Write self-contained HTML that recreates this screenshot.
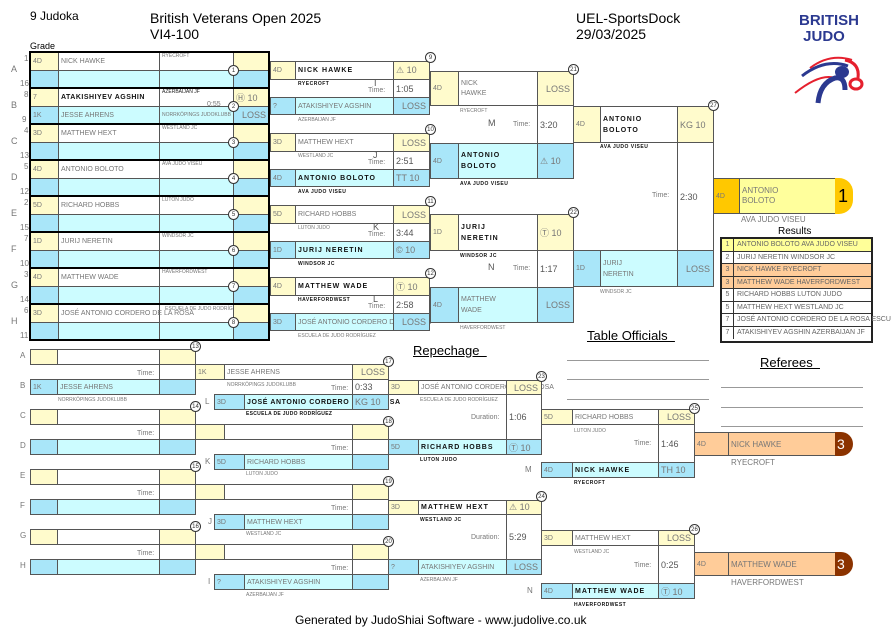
<!DOCTYPE html>
<html><head><meta charset="utf-8"><style>
body{margin:0;width:891px;height:630px;background:#fff;position:relative;overflow:hidden;font-family:"Liberation Sans",sans-serif}
.a{position:absolute;box-sizing:border-box;font-size:7px;color:#777;white-space:nowrap}
.b{border:1px solid #555;display:flex;align-items:center;padding-left:2px}
.Y{background:#fffbcc}.C{background:#a9e6f9}.L{background:#ccfcff}.W{background:#fff}
.r{justify-content:flex-end;padding-right:3px;font-size:9px}
.k{color:#111;font-weight:bold;letter-spacing:1px}
.s{font-size:5px}
.o{position:absolute;width:11px;height:11px;border:1px solid #333;border-radius:50%;background:#fff;font-size:6px;display:flex;align-items:center;justify-content:center;box-sizing:border-box;color:#333;margin:-5px 0 0 -5px}
.t{font-size:9px;color:#555}
.lb{position:absolute;font-size:8px;color:#777}
.rr{height:12.5px;line-height:12.5px;border-bottom:1px solid #333;display:flex;box-sizing:border-box;overflow:visible}
.rr span:first-child{width:11px;border-right:1px solid #333;text-align:center;flex:none}
.rr span+span{padding-left:3px;white-space:nowrap}
</style></head><body>
<!-- header -->
<div class="a" style="left:30px;top:9px;font-size:12px;color:#000">9 Judoka</div>
<div class="a" style="left:150px;top:10px;font-size:14px;color:#000">British Veterans Open 2025</div>
<div class="a" style="left:150px;top:26px;font-size:14px;color:#000">VI4-100</div>
<div class="a" style="left:576px;top:10px;font-size:14px;color:#000">UEL-SportsDock</div>
<div class="a" style="left:576px;top:26px;font-size:14px;color:#000">29/03/2025</div>
<div class="a" style="left:30px;top:41px;font-size:9px;color:#000">Grade</div>
<div class="a" style="left:799px;top:13px;font-size:15px;font-weight:bold;color:#2b3990;line-height:16px">BRITISH<br>&nbsp;JUDO</div>
<svg class="a" style="left:790px;top:48px" width="75" height="57"><path d="M12 28 Q35 10 58 18" stroke="#2b3990" stroke-width="3" fill="none"/><path d="M20 20 Q40 5 62 12" stroke="#e5202e" stroke-width="2" fill="none"/><path d="M5 45 Q30 25 45 30" stroke="#e5202e" stroke-width="2" fill="none"/><path d="M28 55 Q30 35 45 30 Q55 28 55 42" stroke="#2b3990" stroke-width="5" fill="none"/><ellipse cx="52" cy="24" rx="7" ry="6" fill="#2b3990"/><path d="M55 12 Q70 15 68 30" stroke="#e5202e" stroke-width="3" fill="none"/><ellipse cx="66" cy="36" rx="6" ry="5" fill="none" stroke="#e5202e" stroke-width="3"/></svg>

<!-- first round -->
<div class="lb" style="left:11px;top:64px;font-size:9px">A</div><div class="lb s" style="left:24px;top:54px">1</div><div class="lb s" style="left:20px;top:79px">16</div>
<div class="lb" style="left:11px;top:100px;font-size:9px">B</div><div class="lb s" style="left:24px;top:90px">8</div><div class="lb s" style="left:22px;top:115px">9</div>
<div class="lb" style="left:11px;top:136px;font-size:9px">C</div><div class="lb s" style="left:24px;top:126px">4</div><div class="lb s" style="left:20px;top:151px">13</div>
<div class="lb" style="left:11px;top:172px;font-size:9px">D</div><div class="lb s" style="left:24px;top:162px">5</div><div class="lb s" style="left:20px;top:187px">12</div>
<div class="lb" style="left:11px;top:208px;font-size:9px">E</div><div class="lb s" style="left:24px;top:198px">2</div><div class="lb s" style="left:20px;top:223px">15</div>
<div class="lb" style="left:11px;top:244px;font-size:9px">F</div><div class="lb s" style="left:24px;top:234px">7</div><div class="lb s" style="left:20px;top:259px">10</div>
<div class="lb" style="left:11px;top:280px;font-size:9px">G</div><div class="lb s" style="left:24px;top:270px">3</div><div class="lb s" style="left:20px;top:295px">14</div>
<div class="lb" style="left:11px;top:316px;font-size:9px">H</div><div class="lb s" style="left:24px;top:306px">6</div><div class="lb s" style="left:20px;top:331px">11</div>

<div class="a b Y" style="left:30px;top:52px;width:29px;height:19px">4D</div><div class="a b W" style="left:58px;top:52px;width:102px;height:19px">NICK HAWKE</div><div class="a b W s" style="left:159px;top:52px;width:75px;height:19px;align-items:flex-start">RYECROFT</div><div class="a b Y" style="left:233px;top:52px;width:37px;height:19px"></div>
<div class="a b C" style="left:30px;top:70px;width:29px;height:18px"></div><div class="a b L" style="left:58px;top:70px;width:102px;height:18px"></div><div class="a b L" style="left:159px;top:70px;width:75px;height:18px"></div><div class="a b C" style="left:233px;top:70px;width:37px;height:18px"></div>

<div class="a b Y" style="left:30px;top:88px;width:29px;height:19px">7</div><div class="a b W k" style="left:58px;top:88px;width:102px;height:19px;letter-spacing:0.5px">ATAKISHIYEV AGSHIN</div><div class="a b W s" style="left:159px;top:88px;width:75px;height:19px;align-items:flex-start;color:#222">AZERBAIJAN JF</div><div class="a b Y r" style="left:233px;top:88px;width:37px;height:19px;justify-content:flex-start">Ⓗ 10</div>
<div class="a" style="left:207px;top:101px;font-size:7px">0:55</div>
<div class="a b C" style="left:30px;top:106px;width:29px;height:18px">1K</div><div class="a b L" style="left:58px;top:106px;width:102px;height:18px">JESSE AHRENS</div><div class="a b L s" style="left:159px;top:106px;width:75px;height:18px">NORRKÖPINGS JUDOKLUBB</div><div class="a b C r" style="left:233px;top:106px;width:37px;height:18px">LOSS</div>

<div class="a b Y" style="left:30px;top:124px;width:29px;height:19px">3D</div><div class="a b W" style="left:58px;top:124px;width:102px;height:19px">MATTHEW HEXT</div><div class="a b W s" style="left:159px;top:124px;width:75px;height:19px;align-items:flex-start">WESTLAND JC</div><div class="a b Y" style="left:233px;top:124px;width:37px;height:19px"></div>
<div class="a b C" style="left:30px;top:142px;width:29px;height:18px"></div><div class="a b L" style="left:58px;top:142px;width:102px;height:18px"></div><div class="a b L" style="left:159px;top:142px;width:75px;height:18px"></div><div class="a b C" style="left:233px;top:142px;width:37px;height:18px"></div>

<div class="a b Y" style="left:30px;top:160px;width:29px;height:19px">4D</div><div class="a b W" style="left:58px;top:160px;width:102px;height:19px">ANTONIO BOLOTO</div><div class="a b W s" style="left:159px;top:160px;width:75px;height:19px;align-items:flex-start">AVA JUDO VISEU</div><div class="a b Y" style="left:233px;top:160px;width:37px;height:19px"></div>
<div class="a b C" style="left:30px;top:178px;width:29px;height:18px"></div><div class="a b L" style="left:58px;top:178px;width:102px;height:18px"></div><div class="a b L" style="left:159px;top:178px;width:75px;height:18px"></div><div class="a b C" style="left:233px;top:178px;width:37px;height:18px"></div>

<div class="a b Y" style="left:30px;top:196px;width:29px;height:19px">5D</div><div class="a b W" style="left:58px;top:196px;width:102px;height:19px">RICHARD HOBBS</div><div class="a b W s" style="left:159px;top:196px;width:75px;height:19px;align-items:flex-start">LUTON JUDO</div><div class="a b Y" style="left:233px;top:196px;width:37px;height:19px"></div>
<div class="a b C" style="left:30px;top:214px;width:29px;height:18px"></div><div class="a b L" style="left:58px;top:214px;width:102px;height:18px"></div><div class="a b L" style="left:159px;top:214px;width:75px;height:18px"></div><div class="a b C" style="left:233px;top:214px;width:37px;height:18px"></div>

<div class="a b Y" style="left:30px;top:232px;width:29px;height:19px">1D</div><div class="a b W" style="left:58px;top:232px;width:102px;height:19px">JURIJ NERETIN</div><div class="a b W s" style="left:159px;top:232px;width:75px;height:19px;align-items:flex-start">WINDSOR JC</div><div class="a b Y" style="left:233px;top:232px;width:37px;height:19px"></div>
<div class="a b C" style="left:30px;top:250px;width:29px;height:18px"></div><div class="a b L" style="left:58px;top:250px;width:102px;height:18px"></div><div class="a b L" style="left:159px;top:250px;width:75px;height:18px"></div><div class="a b C" style="left:233px;top:250px;width:37px;height:18px"></div>

<div class="a b Y" style="left:30px;top:268px;width:29px;height:19px">4D</div><div class="a b W" style="left:58px;top:268px;width:102px;height:19px">MATTHEW WADE</div><div class="a b W s" style="left:159px;top:268px;width:75px;height:19px;align-items:flex-start">HAVERFORDWEST</div><div class="a b Y" style="left:233px;top:268px;width:37px;height:19px"></div>
<div class="a b C" style="left:30px;top:286px;width:29px;height:18px"></div><div class="a b L" style="left:58px;top:286px;width:102px;height:18px"></div><div class="a b L" style="left:159px;top:286px;width:75px;height:18px"></div><div class="a b C" style="left:233px;top:286px;width:37px;height:18px"></div>

<div class="a b Y" style="left:30px;top:304px;width:29px;height:19px">3D</div><div class="a b W" style="left:58px;top:304px;width:102px;height:19px;overflow:visible">JOSÉ ANTONIO CORDERO DE LA ROSA</div><div class="a s" style="left:165px;top:306px">ESCUELA DE JUDO RODRÍGUEZ</div><div class="a b Y" style="left:233px;top:304px;width:37px;height:19px"></div>
<div class="a b C" style="left:30px;top:322px;width:29px;height:18px"></div><div class="a b L" style="left:58px;top:322px;width:102px;height:18px"></div><div class="a b L" style="left:159px;top:322px;width:75px;height:18px"></div><div class="a b C" style="left:233px;top:322px;width:37px;height:18px"></div>

<div class="a" style="left:29px;top:51px;width:241px;height:38px;border:2px solid #000"></div>
<div class="a" style="left:29px;top:87px;width:241px;height:38px;border:2px solid #000"></div>
<div class="a" style="left:29px;top:123px;width:241px;height:38px;border:2px solid #000"></div>
<div class="a" style="left:29px;top:159px;width:241px;height:38px;border:2px solid #000"></div>
<div class="a" style="left:29px;top:195px;width:241px;height:38px;border:2px solid #000"></div>
<div class="a" style="left:29px;top:231px;width:241px;height:38px;border:2px solid #000"></div>
<div class="a" style="left:29px;top:267px;width:241px;height:38px;border:2px solid #000"></div>
<div class="a" style="left:29px;top:303px;width:241px;height:38px;border:2px solid #000"></div>
<div class="o" style="left:233px;top:70px">1</div><div class="o" style="left:233px;top:106px">2</div><div class="o" style="left:233px;top:142px">3</div><div class="o" style="left:233px;top:178px">4</div><div class="o" style="left:233px;top:214px">5</div><div class="o" style="left:233px;top:250px">6</div><div class="o" style="left:233px;top:286px">7</div><div class="o" style="left:233px;top:322px">8</div>

<!-- round 2 -->
<div class="a b Y" style="left:270px;top:61px;width:26px;height:19px">4D</div><div class="a b W k" style="left:295px;top:61px;width:99px;height:19px">NICK HAWKE</div><div class="a b Y r" style="left:393px;top:61px;width:37px;height:19px;justify-content:flex-start">⚠ 10</div>
<div class="a s k" style="left:298px;top:81px;letter-spacing:.5px">RYECROFT</div><div class="a t" style="left:374px;top:78px">I</div><div class="a" style="left:368px;top:87px;font-size:7px">Time:</div>
<div class="a b W t" style="left:393px;top:79px;width:37px;height:19px">1:05</div>
<div class="a b C" style="left:270px;top:97px;width:26px;height:18px">?</div><div class="a b L" style="left:295px;top:97px;width:99px;height:18px">ATAKISHIYEV AGSHIN</div><div class="a b C r" style="left:393px;top:97px;width:37px;height:18px">LOSS</div>
<div class="a s" style="left:298px;top:117px">AZERBAIJAN JF</div>

<div class="a b Y" style="left:270px;top:133px;width:26px;height:19px">3D</div><div class="a b W" style="left:295px;top:133px;width:99px;height:19px">MATTHEW HEXT</div><div class="a b Y r" style="left:393px;top:133px;width:37px;height:19px">LOSS</div>
<div class="a s" style="left:298px;top:153px">WESTLAND JC</div><div class="a t" style="left:373px;top:150px">J</div><div class="a" style="left:368px;top:159px">Time:</div>
<div class="a b W t" style="left:393px;top:151px;width:37px;height:19px">2:51</div>
<div class="a b C" style="left:270px;top:169px;width:26px;height:18px">4D</div><div class="a b L k" style="left:295px;top:169px;width:99px;height:18px">ANTONIO BOLOTO</div><div class="a b C r" style="left:393px;top:169px;width:37px;height:18px;justify-content:flex-start">TT 10</div>
<div class="a s k" style="left:298px;top:189px;letter-spacing:.5px">AVA JUDO VISEU</div>

<div class="a b Y" style="left:270px;top:205px;width:26px;height:19px">5D</div><div class="a b W" style="left:295px;top:205px;width:99px;height:19px">RICHARD HOBBS</div><div class="a b Y r" style="left:393px;top:205px;width:37px;height:19px">LOSS</div>
<div class="a s" style="left:298px;top:225px">LUTON JUDO</div><div class="a t" style="left:373px;top:222px">K</div><div class="a" style="left:368px;top:231px">Time:</div>
<div class="a b W t" style="left:393px;top:223px;width:37px;height:19px">3:44</div>
<div class="a b C" style="left:270px;top:241px;width:26px;height:18px">1D</div><div class="a b L k" style="left:295px;top:241px;width:99px;height:18px">JURIJ NERETIN</div><div class="a b C r" style="left:393px;top:241px;width:37px;height:18px;justify-content:flex-start">© 10</div>
<div class="a s k" style="left:298px;top:261px;letter-spacing:.5px">WINDSOR JC</div>

<div class="a b Y" style="left:270px;top:277px;width:26px;height:19px">4D</div><div class="a b W k" style="left:295px;top:277px;width:99px;height:19px">MATTHEW WADE</div><div class="a b Y r" style="left:393px;top:277px;width:37px;height:19px;justify-content:flex-start">Ⓣ 10</div>
<div class="a s k" style="left:298px;top:297px;letter-spacing:.5px">HAVERFORDWEST</div><div class="a t" style="left:373px;top:294px">L</div><div class="a" style="left:368px;top:303px">Time:</div>
<div class="a b W t" style="left:393px;top:295px;width:37px;height:19px">2:58</div>
<div class="a b C" style="left:270px;top:313px;width:26px;height:18px">3D</div><div class="a b L" style="left:295px;top:313px;width:99px;height:18px">JOSÉ ANTONIO CORDERO DE LA ROSA</div><div class="a b C r" style="left:393px;top:313px;width:37px;height:18px">LOSS</div>
<div class="a s" style="left:298px;top:333px">ESCUELA DE JUDO RODRÍGUEZ</div>
<div class="o" style="left:430px;top:57px">9</div><div class="o" style="left:430px;top:129px">10</div><div class="o" style="left:430px;top:201px">11</div><div class="o" style="left:430px;top:273px">12</div>

<!-- round 3 -->
<div class="a b Y" style="left:430px;top:71px;width:29px;height:35px">4D</div><div class="a b W" style="left:458px;top:71px;width:80px;height:35px;white-space:normal;line-height:10px">NICK<br>HAWKE</div><div class="a b Y r" style="left:537px;top:71px;width:37px;height:35px">LOSS</div>
<div class="a s" style="left:460px;top:108px">RYECROFT</div><div class="a t" style="left:488px;top:118px">M</div><div class="a" style="left:513px;top:121px">Time:</div>
<div class="a b W t" style="left:537px;top:105px;width:37px;height:39px">3:20</div>
<div class="a b C" style="left:430px;top:143px;width:29px;height:36px">4D</div><div class="a b L k" style="left:458px;top:143px;width:80px;height:36px;line-height:11px">ANTONIO<br>BOLOTO</div><div class="a b C r" style="left:537px;top:143px;width:37px;height:36px;justify-content:flex-start">⚠ 10</div>
<div class="a s k" style="left:460px;top:181px;letter-spacing:.5px">AVA JUDO VISEU</div>

<div class="a b Y" style="left:430px;top:214px;width:29px;height:37px">1D</div><div class="a b W k" style="left:458px;top:214px;width:80px;height:37px;line-height:11px">JURIJ<br>NERETIN</div><div class="a b Y r" style="left:537px;top:214px;width:37px;height:37px;justify-content:flex-start">Ⓣ 10</div>
<div class="a s k" style="left:460px;top:253px;letter-spacing:.5px">WINDSOR JC</div><div class="a t" style="left:488px;top:262px">N</div><div class="a" style="left:513px;top:265px">Time:</div>
<div class="a b W t" style="left:537px;top:250px;width:37px;height:38px">1:17</div>
<div class="a b C" style="left:430px;top:287px;width:29px;height:36px">4D</div><div class="a b L" style="left:458px;top:287px;width:80px;height:36px;line-height:11px">MATTHEW<br>WADE</div><div class="a b C r" style="left:537px;top:287px;width:37px;height:36px">LOSS</div>
<div class="a s" style="left:460px;top:325px">HAVERFORDWEST</div>
<div class="o" style="left:573px;top:69px">21</div><div class="o" style="left:573px;top:212px">22</div>

<!-- final -->
<div class="a b Y" style="left:573px;top:106px;width:28px;height:37px">4D</div><div class="a b W k" style="left:600px;top:106px;width:78px;height:37px;line-height:11px">ANTONIO<br>BOLOTO</div><div class="a b Y r" style="left:677px;top:106px;width:37px;height:37px;justify-content:flex-start">KG 10</div>
<div class="a s k" style="left:600px;top:144px;letter-spacing:.5px">AVA JUDO VISEU</div><div class="a" style="left:652px;top:192px">Time:</div>
<div class="a b W t" style="left:677px;top:142px;width:37px;height:109px">2:30</div>
<div class="a b C" style="left:573px;top:250px;width:28px;height:37px">1D</div><div class="a b L" style="left:600px;top:250px;width:78px;height:37px;line-height:11px">JURIJ<br>NERETIN</div><div class="a b C r" style="left:677px;top:250px;width:37px;height:37px">LOSS</div>
<div class="a s" style="left:600px;top:289px">WINDSOR JC</div>
<div class="o" style="left:713px;top:105px">27</div>

<!-- winner -->
<div class="a b" style="left:713px;top:178px;width:27px;height:36px;background:#ffc800">4D</div>
<div class="a b" style="left:739px;top:178px;width:97px;height:36px;background:#ffff9c;font-size:8px;line-height:10px">ANTONIO<br>BOLOTO</div>
<div class="a" style="left:835px;top:178px;width:18px;height:36px;background:#ffc800;border-radius:0 14px 14px 0;font-size:18px;color:#000;display:flex;align-items:center;padding-left:3px">1</div>
<div class="a" style="left:741px;top:215px;font-size:8px">AVA JUDO VISEU</div>

<!-- results -->
<div class="a" style="left:778px;top:226px;font-size:10px;color:#000">Results</div>
<div class="a" style="left:720px;top:237px;width:153px;height:106px;border:2px solid #222;background:#fff"></div>
<div class="a" style="left:722px;top:239px;width:149px;height:102px;font-size:7px;color:#666;overflow:visible">
<div class="rr" style="background:#ffff99"><span>1</span><span>ANTONIO BOLOTO AVA JUDO VISEU</span></div>
<div class="rr"><span>2</span><span>JURIJ NERETIN WINDSOR JC</span></div>
<div class="rr" style="background:#ffcc99"><span>3</span><span>NICK HAWKE RYECROFT</span></div>
<div class="rr" style="background:#ffcc99"><span>3</span><span>MATTHEW WADE HAVERFORDWEST</span></div>
<div class="rr"><span>5</span><span>RICHARD HOBBS LUTON JUDO</span></div>
<div class="rr"><span>5</span><span>MATTHEW HEXT WESTLAND JC</span></div>
<div class="rr"><span>7</span><span>JOSÉ ANTONIO CORDERO DE LA ROSA ESCUE</span></div>
<div class="rr" style="border-bottom:none"><span>7</span><span>ATAKISHIYEV AGSHIN AZERBAIJAN JF</span></div>
</div>

<!-- officials -->
<div class="a" style="left:587px;top:328px;font-size:13px;color:#000;text-decoration:underline">Table Officials&nbsp;&nbsp;</div>
<div class="a" style="left:567px;top:360px;width:142px;height:1px;background:#999"></div>
<div class="a" style="left:567px;top:379px;width:142px;height:1px;background:#999"></div>
<div class="a" style="left:567px;top:399px;width:142px;height:1px;background:#999"></div>
<div class="a" style="left:760px;top:355px;font-size:13px;color:#000;text-decoration:underline">Referees&nbsp;&nbsp;</div>
<div class="a" style="left:721px;top:387px;width:142px;height:1px;background:#999"></div>
<div class="a" style="left:721px;top:407px;width:142px;height:1px;background:#999"></div>
<div class="a" style="left:721px;top:426px;width:142px;height:1px;background:#999"></div>
<div class="a" style="left:413px;top:343px;font-size:13px;color:#000;text-decoration:underline">Repechage&nbsp;&nbsp;</div>

<!-- repechage round 1 -->
<div class="lb" style="left:20px;top:351px">A</div><div class="lb" style="left:20px;top:381px">B</div><div class="lb" style="left:20px;top:411px">C</div><div class="lb" style="left:20px;top:441px">D</div><div class="lb" style="left:20px;top:471px">E</div><div class="lb" style="left:20px;top:501px">F</div><div class="lb" style="left:20px;top:531px">G</div><div class="lb" style="left:20px;top:561px">H</div>
<div class="a b Y" style="left:30px;top:349px;width:28px;height:16px"></div><div class="a b W" style="left:57px;top:349px;width:103px;height:16px"></div><div class="a b Y" style="left:159px;top:349px;width:37px;height:16px"></div>
<div class="a b C" style="left:30px;top:379px;width:28px;height:16px">1K</div><div class="a b L" style="left:57px;top:379px;width:103px;height:16px">JESSE AHRENS</div><div class="a b C" style="left:159px;top:379px;width:37px;height:16px"></div>
<div class="a b Y" style="left:30px;top:409px;width:28px;height:16px"></div><div class="a b W" style="left:57px;top:409px;width:103px;height:16px"></div><div class="a b Y" style="left:159px;top:409px;width:37px;height:16px"></div>
<div class="a b C" style="left:30px;top:439px;width:28px;height:16px"></div><div class="a b L" style="left:57px;top:439px;width:103px;height:16px"></div><div class="a b C" style="left:159px;top:439px;width:37px;height:16px"></div>
<div class="a b Y" style="left:30px;top:469px;width:28px;height:16px"></div><div class="a b W" style="left:57px;top:469px;width:103px;height:16px"></div><div class="a b Y" style="left:159px;top:469px;width:37px;height:16px"></div>
<div class="a b C" style="left:30px;top:499px;width:28px;height:16px"></div><div class="a b L" style="left:57px;top:499px;width:103px;height:16px"></div><div class="a b C" style="left:159px;top:499px;width:37px;height:16px"></div>
<div class="a b Y" style="left:30px;top:529px;width:28px;height:16px"></div><div class="a b W" style="left:57px;top:529px;width:103px;height:16px"></div><div class="a b Y" style="left:159px;top:529px;width:37px;height:16px"></div>
<div class="a b C" style="left:30px;top:559px;width:28px;height:16px"></div><div class="a b L" style="left:57px;top:559px;width:103px;height:16px"></div><div class="a b C" style="left:159px;top:559px;width:37px;height:16px"></div>
<div class="a b W" style="left:159px;top:364px;width:37px;height:16px"></div><div class="a b W" style="left:159px;top:424px;width:37px;height:16px"></div><div class="a b W" style="left:159px;top:484px;width:37px;height:16px"></div><div class="a b W" style="left:159px;top:544px;width:37px;height:16px"></div>
<div class="a" style="left:137px;top:370px">Time:</div><div class="a" style="left:137px;top:430px">Time:</div><div class="a" style="left:137px;top:490px">Time:</div><div class="a" style="left:137px;top:550px">Time:</div>
<div class="a s" style="left:58px;top:397px">NORRKÖPINGS JUDOKLUBB</div>
<div class="o" style="left:195px;top:346px">13</div><div class="o" style="left:195px;top:406px">14</div><div class="o" style="left:195px;top:466px">15</div><div class="o" style="left:195px;top:526px">16</div>

<!-- repechage round 2 -->
<div class="a b Y" style="left:195px;top:364px;width:30px;height:16px">1K</div><div class="a b W" style="left:224px;top:364px;width:129px;height:16px">JESSE AHRENS</div><div class="a b Y r" style="left:352px;top:364px;width:37px;height:16px">LOSS</div>
<div class="a s" style="left:227px;top:382px">NORRKÖPINGS JUDOKLUBB</div><div class="a" style="left:331px;top:385px">Time:</div><div class="a b W t" style="left:352px;top:379px;width:37px;height:16px">0:33</div>
<div class="lb" style="left:205px;top:397px">L</div>
<div class="a b C" style="left:214px;top:394px;width:31px;height:16px">3D</div><div class="a b L k" style="left:244px;top:394px;width:109px;height:16px;letter-spacing:.6px">JOSÉ ANTONIO CORDERO DE LA ROSA</div><div class="a b C" style="left:352px;top:394px;width:37px;height:16px;font-size:9px">KG 10</div>
<div class="a s k" style="left:246px;top:411px;letter-spacing:.3px">ESCUELA DE JUDO RODRÍGUEZ</div>

<div class="a b Y" style="left:195px;top:424px;width:30px;height:16px"></div><div class="a b W" style="left:224px;top:424px;width:129px;height:16px"></div><div class="a b Y" style="left:352px;top:424px;width:37px;height:16px"></div>
<div class="a" style="left:331px;top:445px">Time:</div><div class="a b W" style="left:352px;top:439px;width:37px;height:16px"></div>
<div class="lb" style="left:205px;top:457px">K</div>
<div class="a b C" style="left:214px;top:454px;width:31px;height:16px">5D</div><div class="a b L" style="left:244px;top:454px;width:109px;height:16px">RICHARD HOBBS</div><div class="a b C" style="left:352px;top:454px;width:37px;height:16px"></div>
<div class="a s" style="left:246px;top:471px">LUTON JUDO</div>

<div class="a b Y" style="left:195px;top:484px;width:30px;height:16px"></div><div class="a b W" style="left:224px;top:484px;width:129px;height:16px"></div><div class="a b Y" style="left:352px;top:484px;width:37px;height:16px"></div>
<div class="a" style="left:331px;top:505px">Time:</div><div class="a b W" style="left:352px;top:499px;width:37px;height:16px"></div>
<div class="lb" style="left:208px;top:517px">J</div>
<div class="a b C" style="left:214px;top:514px;width:31px;height:16px">3D</div><div class="a b L" style="left:244px;top:514px;width:109px;height:16px">MATTHEW HEXT</div><div class="a b C" style="left:352px;top:514px;width:37px;height:16px"></div>
<div class="a s" style="left:246px;top:531px">WESTLAND JC</div>

<div class="a b Y" style="left:195px;top:544px;width:30px;height:16px"></div><div class="a b W" style="left:224px;top:544px;width:129px;height:16px"></div><div class="a b Y" style="left:352px;top:544px;width:37px;height:16px"></div>
<div class="a" style="left:331px;top:565px">Time:</div><div class="a b W" style="left:352px;top:559px;width:37px;height:16px"></div>
<div class="lb" style="left:208px;top:577px">I</div>
<div class="a b C" style="left:214px;top:574px;width:31px;height:16px">?</div><div class="a b L" style="left:244px;top:574px;width:109px;height:16px">ATAKISHIYEV AGSHIN</div><div class="a b C" style="left:352px;top:574px;width:37px;height:16px"></div>
<div class="a s" style="left:246px;top:592px">AZERBAIJAN JF</div>
<div class="o" style="left:388px;top:361px">17</div><div class="o" style="left:388px;top:421px">18</div><div class="o" style="left:388px;top:481px">19</div><div class="o" style="left:388px;top:541px">20</div>

<!-- repechage round 3 -->
<div class="a b Y" style="left:388px;top:380px;width:31px;height:15px">3D</div><div class="a b W" style="left:418px;top:380px;width:89px;height:15px">JOSÉ ANTONIO CORDERO DE LA ROSA</div><div class="a b Y r" style="left:506px;top:380px;width:36px;height:15px">LOSS</div>
<div class="a s" style="left:420px;top:397px">ESCUELA DE JUDO RODRÍGUEZ</div><div class="a" style="left:471px;top:414px">Duration:</div>
<div class="a b W t" style="left:506px;top:394px;width:36px;height:46px">1:06</div>
<div class="a b C" style="left:388px;top:439px;width:31px;height:16px">5D</div><div class="a b L k" style="left:418px;top:439px;width:89px;height:16px">RICHARD HOBBS</div><div class="a b C r" style="left:506px;top:439px;width:36px;height:16px;justify-content:flex-start">Ⓣ 10</div>
<div class="a s k" style="left:420px;top:457px;letter-spacing:.5px">LUTON JUDO</div>

<div class="a b Y" style="left:388px;top:500px;width:31px;height:15px">3D</div><div class="a b W k" style="left:418px;top:500px;width:89px;height:15px">MATTHEW HEXT</div><div class="a b Y r" style="left:506px;top:500px;width:36px;height:15px;justify-content:flex-start">⚠ 10</div>
<div class="a s k" style="left:420px;top:517px;letter-spacing:.5px">WESTLAND JC</div><div class="a" style="left:471px;top:534px">Duration:</div>
<div class="a b W t" style="left:506px;top:514px;width:36px;height:46px">5:29</div>
<div class="a b C" style="left:388px;top:559px;width:31px;height:16px">?</div><div class="a b L" style="left:418px;top:559px;width:89px;height:16px">ATAKISHIYEV AGSHIN</div><div class="a b C r" style="left:506px;top:559px;width:36px;height:16px">LOSS</div>
<div class="a s" style="left:420px;top:577px">AZERBAIJAN JF</div>
<div class="o" style="left:541px;top:376px">23</div><div class="o" style="left:541px;top:496px">24</div>

<!-- repechage round 4 -->
<div class="a b Y" style="left:541px;top:409px;width:32px;height:16px">5D</div><div class="a b W" style="left:572px;top:409px;width:87px;height:16px">RICHARD HOBBS</div><div class="a b Y r" style="left:658px;top:409px;width:37px;height:16px">LOSS</div>
<div class="a s" style="left:574px;top:428px">LUTON JUDO</div><div class="a" style="left:634px;top:440px">Time:</div>
<div class="a b W t" style="left:658px;top:424px;width:37px;height:39px">1:46</div>
<div class="lb" style="left:525px;top:465px">M</div>
<div class="a b C" style="left:541px;top:462px;width:32px;height:16px">4D</div><div class="a b L k" style="left:572px;top:462px;width:87px;height:16px">NICK HAWKE</div><div class="a b C r" style="left:658px;top:462px;width:37px;height:16px;justify-content:flex-start">TH 10</div>
<div class="a s k" style="left:574px;top:480px;letter-spacing:.5px">RYECROFT</div>

<div class="a b Y" style="left:541px;top:530px;width:32px;height:16px">3D</div><div class="a b W" style="left:572px;top:530px;width:87px;height:16px">MATTHEW HEXT</div><div class="a b Y r" style="left:658px;top:530px;width:37px;height:16px">LOSS</div>
<div class="a s" style="left:574px;top:549px">WESTLAND JC</div><div class="a" style="left:634px;top:562px">Time:</div>
<div class="a b W t" style="left:658px;top:545px;width:37px;height:39px">0:25</div>
<div class="lb" style="left:527px;top:586px">N</div>
<div class="a b C" style="left:541px;top:583px;width:32px;height:16px">4D</div><div class="a b L k" style="left:572px;top:583px;width:87px;height:16px">MATTHEW WADE</div><div class="a b C r" style="left:658px;top:583px;width:37px;height:16px;justify-content:flex-start">Ⓣ 10</div>
<div class="a s k" style="left:574px;top:602px;letter-spacing:.5px">HAVERFORDWEST</div>
<div class="o" style="left:694px;top:408px">25</div><div class="o" style="left:694px;top:529px">26</div>

<!-- bronze -->
<div class="a b" style="left:694px;top:432px;width:35px;height:24px;background:#ffcc99">4D</div><div class="a b" style="left:728px;top:432px;width:108px;height:24px;background:#ffcc99;font-size:8px">NICK HAWKE</div>
<div class="a" style="left:835px;top:432px;width:18px;height:24px;background:#8b3300;border-radius:0 12px 12px 0;color:#fff;font-size:14px;display:flex;align-items:center;padding-left:2px">3</div>
<div class="a" style="left:731px;top:458px;font-size:8px">RYECROFT</div>
<div class="a b" style="left:694px;top:552px;width:35px;height:24px;background:#ffcc99">4D</div><div class="a b" style="left:728px;top:552px;width:108px;height:24px;background:#ffcc99;font-size:8px">MATTHEW WADE</div>
<div class="a" style="left:835px;top:552px;width:18px;height:24px;background:#8b3300;border-radius:0 12px 12px 0;color:#fff;font-size:14px;display:flex;align-items:center;padding-left:2px">3</div>
<div class="a" style="left:731px;top:578px;font-size:8px">HAVERFORDWEST</div>

<div class="a" style="left:295px;top:613px;font-size:12px;color:#000">Generated by JudoShiai Software - www.judolive.co.uk</div>
</body></html>
